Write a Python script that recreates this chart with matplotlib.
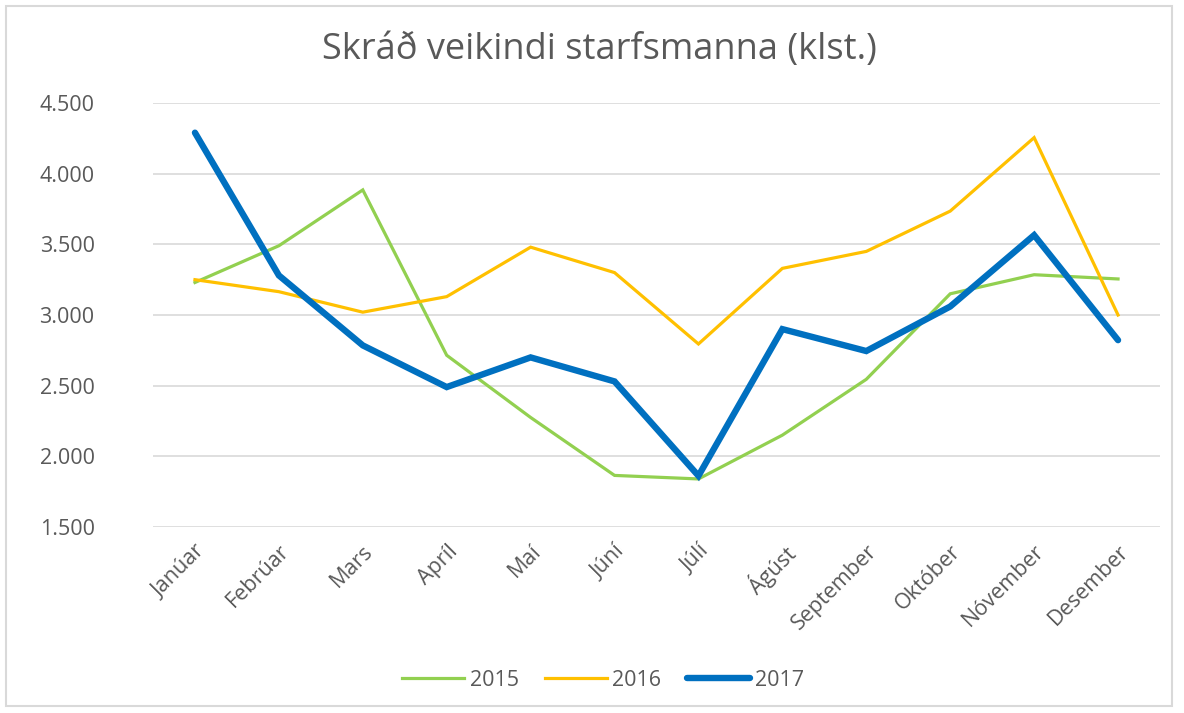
import matplotlib
matplotlib.use("Agg")
import matplotlib.pyplot as plt
from matplotlib.patches import Rectangle
from matplotlib.ticker import FuncFormatter

months = ["Janúar", "Febrúar", "Mars", "Apríl", "Maí", "Júní", "Júlí",
          "Ágúst", "September", "Október", "Nóvember", "Desember"]
y2015 = [3230, 3490, 3885, 2715, 2275, 1865, 1840, 2150, 2545, 3150, 3285, 3255]
y2016 = [3250, 3165, 3020, 3130, 3480, 3300, 2795, 3330, 3450, 3735, 4255, 3000]
y2017 = [4290, 3280, 2785, 2490, 2700, 2530, 1862, 2900, 2745, 3060, 3565, 2822]
series_labels = ["2015", "2016", "2017"]
title = "Skráð veikindi starfsmanna (klst.)"

plt.rcParams['font.family'] = ['Open Sans', 'DejaVu Sans']
TXT = "#595959"
FS = 15.5

W, H = 1184, 713
fig = plt.figure(figsize=(W / 100, H / 100), dpi=100)
fig.patch.set_facecolor("white")

# outer frame
fig.add_artist(Rectangle((6 / W, 1 - 706 / H), (1172 - 6) / W, (706 - 6) / H,
                         transform=fig.transFigure, fill=False,
                         edgecolor="#D9D9D9", linewidth=1.5))

left, right, top, bottom = 153, 1160, 103, 527
ax = fig.add_axes([left / W, 1 - bottom / H, (right - left) / W, (bottom - top) / H])

x = list(range(len(months)))
ax.plot(x, y2015, color="#92D050", lw=2.3, label=series_labels[0], solid_joinstyle="miter")
ax.plot(x, y2016, color="#FFC000", lw=2.3, label=series_labels[1], solid_joinstyle="miter")
ax.plot(x, y2017, color="#0070C0", lw=4.6, label=series_labels[2], solid_capstyle="round",
        solid_joinstyle="miter")

ax.set_xlim(-0.5, len(months) - 0.5)
ax.set_ylim(1500, 4500)
ax.set_yticks([1500, 2000, 2500, 3000, 3500, 4000, 4500])
ax.yaxis.set_major_formatter(FuncFormatter(lambda v, p: f"{int(v):,}".replace(",", ".")))
ax.grid(axis="y", color="#D9D9D9", lw=1.2)
ax.set_axisbelow(True)
for s in ax.spines.values():
    s.set_visible(False)
ax.tick_params(axis="both", length=0, colors=TXT, labelsize=FS)
ax.tick_params(axis="y", pad=42)
ax.set_xticks(x)
ax.set_xticklabels(months, rotation=45, ha="right", va="top", rotation_mode="anchor")
ax.tick_params(axis="x", pad=10)

fig.text(599 / W, 1 - 50 / H, title, ha="center", va="center", fontsize=26, color=TXT)

leg = fig.legend(loc="center", bbox_to_anchor=(603 / W, 1 - 680 / H), ncol=3,
                 frameon=False, fontsize=FS, handlelength=2.9, handletextpad=0.25,
                 columnspacing=1.2, labelcolor=TXT)

fig.savefig("out.png", dpi=100, facecolor="white")
